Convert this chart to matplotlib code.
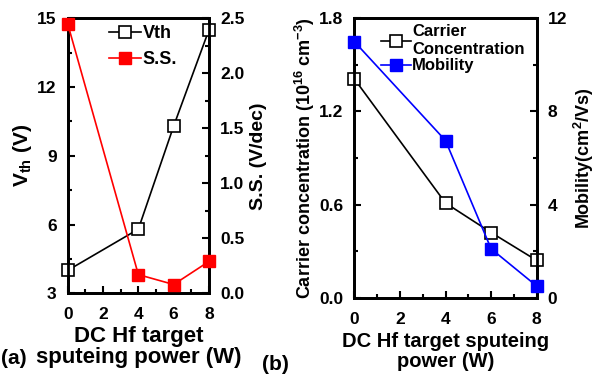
import matplotlib
matplotlib.use("Agg")
import matplotlib.pyplot as plt
from matplotlib.ticker import MultipleLocator, FormatStrFormatter

plt.rcParams["font.family"] = ["Liberation Sans", "DejaVu Sans"]
plt.rcParams["font.weight"] = "bold"
plt.rcParams["axes.labelweight"] = "bold"
plt.rcParams["mathtext.fontset"] = "custom"
plt.rcParams["mathtext.rm"] = "Liberation Sans:bold"
plt.rcParams["mathtext.bf"] = "Liberation Sans:bold"
plt.rcParams["mathtext.default"] = "rm"

power = [0, 4, 6, 8]
vth = [4.0, 5.8, 10.3, 14.5]
ss = [2.45, 0.17, 0.08, 0.29]
carrier = [1.41, 0.61, 0.42, 0.24]
mobility = [11.0, 6.75, 2.1, 0.5]

W, H = 596, 378
fig = plt.figure(figsize=(W / 100, H / 100), dpi=100)


def style(ax):
    for s in ax.spines.values():
        s.set_linewidth(2)
    ax.tick_params(direction="in", width=1.5, length=5, labelsize=12.5,
                   top=False, pad=8)
    ax.tick_params(axis="x", pad=10)
    ax.tick_params(which="minor", direction="in", width=1.5, length=3, top=False)


# (a)
ax1 = fig.add_axes([67.7 / W, 1 - 293.3 / H, 141.3 / W, 275 / H])
ax1b = ax1.twinx()
l1, = ax1.plot(power, vth, "-s", color="black", lw=1.2, ms=9,
               mfc="white", mec="black", mew=1.2, clip_on=False, zorder=3)
l2, = ax1b.plot(power, ss, "-s", color="red", lw=1.2, ms=9,
                mfc="red", mec="red", clip_on=False, zorder=3)
ax1.set_xlim(0, 8)
ax1.set_ylim(3, 15)
ax1b.set_ylim(0, 2.5)
ax1.xaxis.set_major_locator(MultipleLocator(2))
ax1.xaxis.set_minor_locator(MultipleLocator(1))
ax1.yaxis.set_major_locator(MultipleLocator(3))
ax1.yaxis.set_minor_locator(MultipleLocator(1.5))
ax1b.yaxis.set_major_locator(MultipleLocator(0.5))
ax1b.yaxis.set_minor_locator(MultipleLocator(0.25))
ax1b.yaxis.set_major_formatter(FormatStrFormatter("%.1f"))
style(ax1)
style(ax1b)
ax1.set_ylabel("V$_{th}$ (V)", fontsize=15, labelpad=2)
ax1b.set_ylabel("S.S. (V/dec)", fontsize=14, labelpad=4)
ax1.set_xlabel("DC Hf target\nsputeing power (W)", fontsize=16, labelpad=3,
               linespacing=1.0)
ax1.legend([l1, l2], ["Vth", "S.S."], loc="upper left",
           bbox_to_anchor=(0.2, 1.02), frameon=False, fontsize=13,
           handlelength=1.8, handletextpad=0.1, labelspacing=0.5,
           borderaxespad=0.3)
fig.text(0.002, 1 - 358 / H, "(a)", fontsize=15, va="center", ha="left")

# (b)
ax2 = fig.add_axes([354.3 / W, 1 - 297.7 / H, 182.4 / W, 279.4 / H])
ax2b = ax2.twinx()
l3, = ax2.plot(power, carrier, "-s", color="black", lw=1.2, ms=9,
               mfc="white", mec="black", mew=1.2, clip_on=False, zorder=3)
l4, = ax2b.plot(power, mobility, "-s", color="blue", lw=1.2, ms=9,
                mfc="blue", mec="blue", clip_on=False, zorder=3)
ax2.set_xlim(0, 8)
ax2.set_ylim(0, 1.8)
ax2b.set_ylim(0, 12)
ax2.xaxis.set_major_locator(MultipleLocator(2))
ax2.xaxis.set_minor_locator(MultipleLocator(1))
ax2.yaxis.set_major_locator(MultipleLocator(0.6))
ax2.yaxis.set_minor_locator(MultipleLocator(0.3))
ax2.yaxis.set_major_formatter(FormatStrFormatter("%.1f"))
ax2b.yaxis.set_major_locator(MultipleLocator(4))
ax2b.yaxis.set_minor_locator(MultipleLocator(2))
style(ax2)
style(ax2b)
ax2.set_ylabel("Carrier concentration (10$^{16}$ cm$^{-3}$)", fontsize=13,
               labelpad=1)
ax2b.set_ylabel("Mobility(cm$^2$/Vs)", fontsize=13, labelpad=3)
ax2.set_xlabel("DC Hf target sputeing\npower (W)", fontsize=14.5, labelpad=4,
               linespacing=1.05)
ax2.legend([l3, l4], ["Carrier\nConcentration", "Mobility"], loc="upper left",
           bbox_to_anchor=(0.08, 1.02), frameon=False, fontsize=12,
           handlelength=1.8, handletextpad=0.1, labelspacing=0.1,
           borderaxespad=0.3)
fig.text(262 / W, 1 - 364 / H, "(b)", fontsize=15, va="center", ha="left")

fig.savefig("out.png", dpi=100)
